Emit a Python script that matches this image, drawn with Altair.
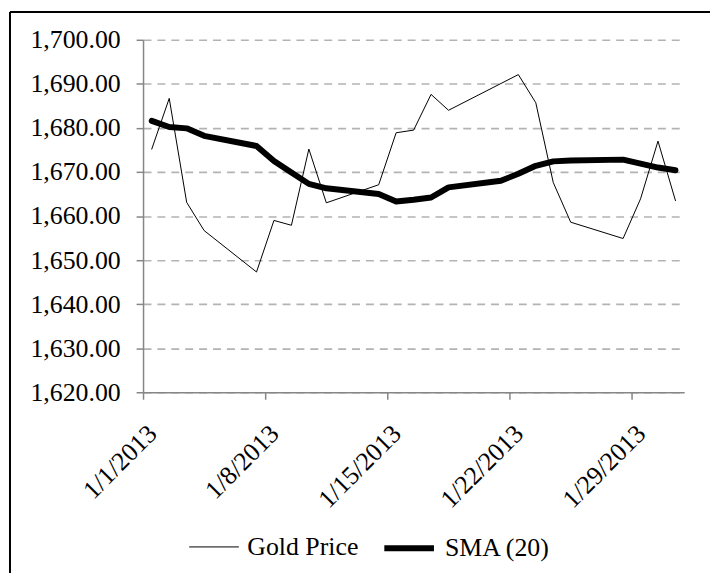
import altair as alt
import pandas as pd

# ---- data ----
dates = ["2013-01-01", "2013-01-02", "2013-01-03", "2013-01-04", "2013-01-07",
         "2013-01-08", "2013-01-09", "2013-01-10", "2013-01-11", "2013-01-14",
         "2013-01-15", "2013-01-16", "2013-01-17", "2013-01-18", "2013-01-21",
         "2013-01-22", "2013-01-23", "2013-01-24", "2013-01-25", "2013-01-28",
         "2013-01-29", "2013-01-30", "2013-01-31"]
gold_price = [1675.2, 1686.7, 1663.1, 1656.7, 1647.3,
              1659.0, 1657.9, 1675.2, 1663.0, 1667.1,
              1678.9, 1679.5, 1687.6, 1684.0, None,
              1692.1, 1685.7, 1667.6, 1658.6, 1654.9,
              1663.9, 1677.0, 1663.5]
sma_20 = [1681.6, 1680.2, 1679.9, 1678.2, 1675.9,
          1672.5, 1669.9, 1667.3, 1666.3, 1665.0,
          1663.3, 1663.7, 1664.2, 1666.5, 1668.0,
          1669.6, 1671.4, 1672.4, 1672.6, 1672.8,
          1671.9, 1671.0, 1670.4]
series_names = ["Gold Price", "SMA (20)"]
y_ticks = [1620, 1630, 1640, 1650, 1660, 1670, 1680, 1690, 1700]
x_tick_days = [1, 8, 15, 22, 29]

# ---- long table (each day is a slot; values sit at the middle of the day) ----
rows = []
for d, g, s in zip(dates, gold_price, sma_20):
    ts = pd.Timestamp(d) + pd.Timedelta(hours=12)
    if g is not None:
        rows.append({"date": ts, "series": series_names[0], "value": g})
    rows.append({"date": ts, "series": series_names[1], "value": s})
df = pd.DataFrame(rows)

FONT = "Liberation Serif"
FS = 26
AXIS_GREY = "#868686"

x_enc = alt.X(
    "date:T",
    scale=alt.Scale(domain=[alt.DateTime(year=2013, month=1, date=1),
                            alt.DateTime(year=2013, month=2, date=1)]),
    axis=alt.Axis(
        values=[alt.DateTime(year=2013, month=1, date=d) for d in x_tick_days],
        format="%-m/%-d/%Y", labelAngle=-45, labelAlign="right",
        labelBaseline="top", labelPadding=21, title=None, grid=False,
        tickSize=7, zindex=1, labelFont=FONT, labelFontSize=FS,
        labelColor="black", labelOverlap=False,
    ),
)
y_enc = alt.Y(
    "value:Q",
    scale=alt.Scale(domain=[1620, 1700], nice=False, zero=False),
    axis=alt.Axis(
        values=y_ticks, format=",.2f", title=None, grid=True,
        gridColor="#b3b3b3", gridDash=[8, 6], gridWidth=1.6,
        tickSize=7, labelPadding=16, labelFont=FONT, labelFontSize=FS,
        labelColor="black",
    ),
)

lines = alt.Chart(df).mark_line(strokeCap="round", strokeJoin="round").encode(
    x=x_enc,
    y=y_enc,
    color=alt.Color(
        "series:N",
        scale=alt.Scale(domain=series_names, range=["black", "black"]),
        legend=alt.Legend(
            title=None, orient="none", direction="horizontal",
            legendX=46, legendY=484, symbolType="stroke", symbolSize=2500,
            labelFont=FONT, labelFontSize=FS, labelColor="black",
            labelOffset=8, columnPadding=14,
        ),
    ),
    strokeWidth=alt.StrokeWidth(
        "series:N",
        scale=alt.Scale(domain=series_names, range=[1, 6]),
    ),
    order=alt.Order("date:T"),
)

frame_data = alt.Data(values=[{}])
border_left = alt.Chart(frame_data).mark_rule(color="black", strokeWidth=2).encode(
    x=alt.value(-134), y=alt.value(-28), y2=alt.value(560)
)
border_top = alt.Chart(frame_data).mark_rule(color="black", strokeWidth=2).encode(
    x=alt.value(-134), x2=alt.value(600), y=alt.value(-28)
)

chart = alt.layer(lines, border_left, border_top).properties(
    width=545, height=355,
    padding={"left": 136, "top": 30, "right": 26, "bottom": 180},
    autosize="none",
).configure_view(stroke=None).configure_axis(
    domainColor=AXIS_GREY, domainWidth=1.5, tickColor=AXIS_GREY, tickWidth=1.5,
)

chart.save("out.html", embed_options={"renderer": "svg", "actions": False})
